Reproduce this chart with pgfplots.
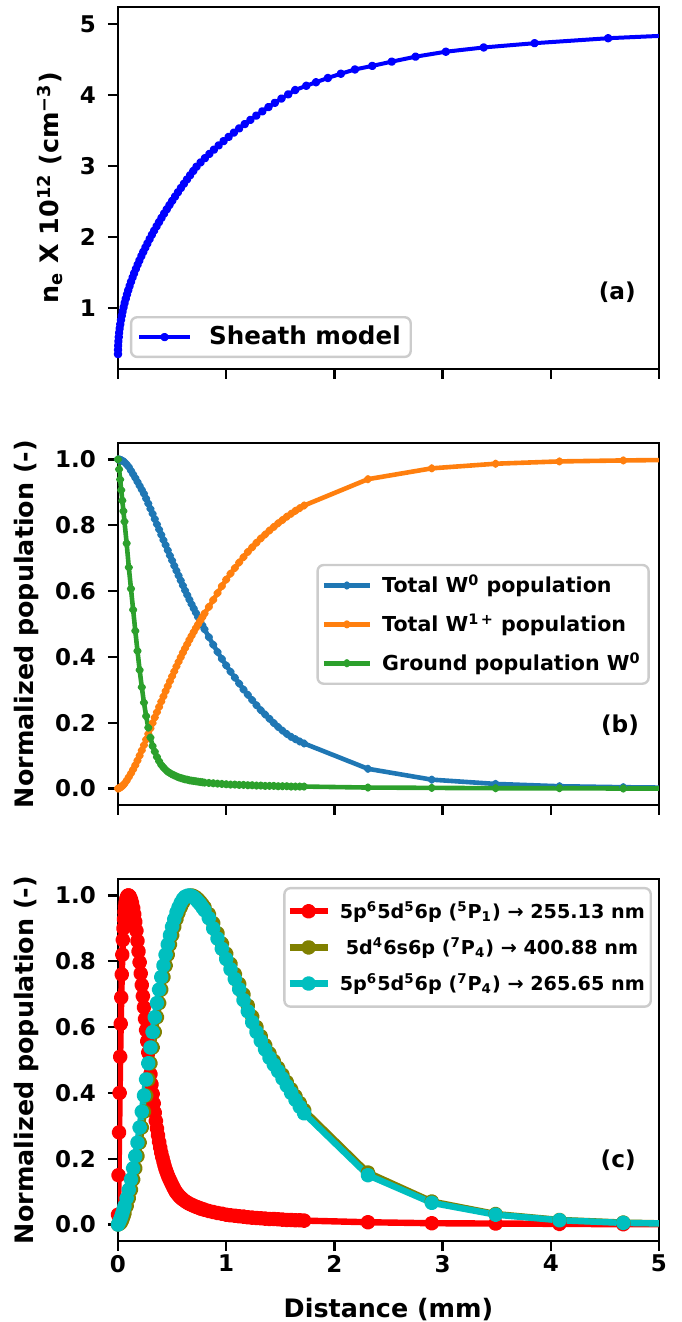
\documentclass[border=0pt]{standalone}
\usepackage{fontspec}
\setmainfont{DejaVu Sans}
\usepackage{pgfplots}
\pgfplotsset{compat=1.18}
\usepackage{pgfplotstable}

\definecolor{tabblue}{HTML}{1F77B4}
\definecolor{taborange}{HTML}{FF7F0E}
\definecolor{tabgreen}{HTML}{2CA02C}
\definecolor{mplolive}{HTML}{808000}
\definecolor{mplcyan}{HTML}{00BFBF}
\definecolor{legframe}{HTML}{CCCCCC}

\pgfplotstableread{
x blue orange green olive cyan
0.00 1.000 0.000 1.000 0.000 0.000
0.01 1.000 0.001 0.970 0.002 0.007
0.02 0.999 0.003 0.939 0.004 0.015
0.03 0.998 0.005 0.907 0.008 0.024
0.04 0.996 0.008 0.875 0.015 0.034
0.05 0.994 0.011 0.843 0.024 0.045
0.06 0.992 0.015 0.811 0.034 0.056
0.08 0.985 0.024 0.745 0.056 0.080
0.10 0.977 0.035 0.672 0.080 0.106
0.12 0.966 0.046 0.607 0.106 0.137
0.14 0.955 0.058 0.543 0.137 0.171
0.16 0.944 0.071 0.479 0.171 0.208
0.18 0.932 0.085 0.418 0.208 0.249
0.20 0.920 0.100 0.360 0.249 0.295
0.22 0.908 0.116 0.308 0.295 0.343
0.24 0.896 0.132 0.261 0.343 0.392
0.26 0.881 0.149 0.220 0.392 0.441
0.28 0.866 0.166 0.185 0.441 0.490
0.30 0.850 0.183 0.155 0.490 0.538
0.32 0.835 0.199 0.129 0.538 0.585
0.34 0.819 0.216 0.112 0.585 0.630
0.36 0.803 0.232 0.096 0.630 0.673
0.38 0.787 0.248 0.083 0.673 0.714
0.40 0.771 0.264 0.072 0.714 0.752
0.42 0.755 0.280 0.064 0.752 0.787
0.44 0.740 0.296 0.057 0.787 0.820
0.46 0.724 0.311 0.051 0.820 0.851
0.48 0.708 0.326 0.047 0.851 0.879
0.50 0.693 0.341 0.043 0.879 0.905
0.52 0.677 0.356 0.040 0.905 0.928
0.54 0.662 0.371 0.037 0.928 0.948
0.56 0.647 0.385 0.034 0.948 0.964
0.58 0.632 0.399 0.032 0.964 0.978
0.60 0.617 0.413 0.030 0.978 0.989
0.62 0.602 0.426 0.028 0.989 0.996
0.64 0.588 0.439 0.027 0.996 0.999
0.66 0.574 0.452 0.025 0.999 1.000
0.68 0.560 0.464 0.024 1.000 0.998
0.70 0.547 0.476 0.023 0.998 0.994
0.72 0.534 0.488 0.022 0.994 0.988
0.74 0.521 0.499 0.021 0.988 0.981
0.76 0.508 0.510 0.020 0.981 0.973
0.78 0.496 0.521 0.019 0.973 0.964
0.80 0.484 0.532 0.018 0.964 0.955
0.84 0.460 0.552 0.017 0.943 0.931
0.88 0.437 0.573 0.016 0.916 0.900
0.92 0.415 0.594 0.015 0.885 0.869
0.96 0.394 0.615 0.014 0.854 0.838
1.00 0.374 0.635 0.013 0.823 0.807
1.04 0.355 0.653 0.012 0.792 0.776
1.08 0.337 0.670 0.012 0.761 0.746
1.12 0.319 0.687 0.011 0.731 0.715
1.16 0.301 0.703 0.011 0.699 0.682
1.20 0.285 0.719 0.010 0.665 0.648
1.24 0.269 0.733 0.010 0.632 0.615
1.28 0.253 0.747 0.009 0.600 0.585
1.32 0.238 0.760 0.009 0.572 0.558
1.36 0.225 0.772 0.008 0.545 0.532
1.40 0.212 0.784 0.008 0.520 0.507
1.44 0.199 0.795 0.008 0.497 0.486
1.48 0.187 0.806 0.007 0.476 0.466
1.52 0.176 0.816 0.007 0.455 0.444
1.56 0.166 0.826 0.007 0.433 0.422
1.60 0.157 0.835 0.006 0.411 0.400
1.64 0.150 0.844 0.006 0.390 0.379
1.68 0.143 0.852 0.006 0.369 0.358
1.72 0.137 0.860 0.006 0.348 0.338
2.31 0.060 0.940 0.003 0.158 0.150
2.90 0.027 0.973 0.002 0.070 0.066
3.49 0.014 0.987 0.001 0.032 0.030
4.08 0.007 0.994 0.001 0.014 0.013
4.67 0.004 0.997 0.000 0.006 0.005
5.26 0.002 0.999 0.000 0.002 0.002
}\popdata

\pgfplotstableread{
x red
0.000 0.030
0.005 0.150
0.010 0.280
0.015 0.400
0.020 0.510
0.025 0.610
0.030 0.690
0.035 0.760
0.040 0.820
0.045 0.865
0.050 0.900
0.055 0.928
0.060 0.950
0.065 0.966
0.070 0.978
0.075 0.987
0.080 0.993
0.085 0.997
0.090 0.999
0.095 1.000
0.100 1.000
0.110 0.996
0.120 0.988
0.130 0.977
0.140 0.962
0.150 0.943
0.160 0.920
0.170 0.893
0.180 0.862
0.190 0.830
0.200 0.797
0.210 0.763
0.220 0.728
0.230 0.694
0.240 0.660
0.250 0.625
0.260 0.591
0.270 0.557
0.280 0.523
0.290 0.490
0.300 0.457
0.310 0.426
0.320 0.397
0.330 0.368
0.340 0.340
0.350 0.315
0.360 0.292
0.370 0.271
0.380 0.251
0.390 0.234
0.400 0.218
0.410 0.204
0.420 0.191
0.430 0.179
0.440 0.168
0.450 0.159
0.460 0.150
0.470 0.142
0.480 0.135
0.490 0.128
0.500 0.121
0.510 0.114
0.520 0.108
0.530 0.102
0.540 0.097
0.550 0.093
0.560 0.089
0.570 0.085
0.580 0.082
0.590 0.079
0.600 0.076
0.620 0.071
0.640 0.067
0.660 0.063
0.680 0.060
0.700 0.057
0.720 0.054
0.740 0.052
0.760 0.049
0.780 0.047
0.800 0.045
0.840 0.041
0.880 0.038
0.920 0.035
0.960 0.033
1.000 0.030
1.040 0.028
1.080 0.027
1.120 0.025
1.160 0.024
1.200 0.022
1.240 0.021
1.280 0.020
1.320 0.019
1.360 0.018
1.400 0.017
1.440 0.017
1.480 0.016
1.520 0.015
1.560 0.014
1.600 0.014
1.640 0.013
1.680 0.013
1.720 0.012
2.310 0.007
2.900 0.004
3.490 0.003
4.080 0.002
4.670 0.001
5.260 0.001
}\reddata

\pgfplotstableread{
x n
0.0000 0.35
0.0004 0.41
0.0017 0.47
0.0039 0.53
0.0069 0.59
0.0107 0.65
0.0154 0.71
0.0210 0.77
0.0274 0.83
0.0347 0.89
0.0428 0.95
0.0518 1.01
0.0613 1.07
0.0717 1.13
0.0828 1.19
0.0947 1.25
0.1073 1.31
0.1206 1.37
0.1347 1.43
0.1494 1.49
0.1649 1.55
0.1811 1.61
0.1979 1.67
0.2155 1.73
0.2337 1.79
0.2525 1.85
0.2721 1.91
0.2922 1.97
0.3130 2.03
0.3344 2.09
0.3564 2.15
0.3791 2.21
0.4023 2.27
0.4262 2.33
0.4506 2.39
0.4756 2.45
0.5012 2.51
0.5274 2.57
0.5541 2.63
0.5814 2.69
0.6092 2.75
0.6375 2.81
0.6664 2.87
0.6958 2.93
0.7257 2.99
0.7630 3.05
0.8030 3.11
0.8443 3.17
0.8864 3.23
0.9304 3.29
0.9758 3.35
1.0226 3.41
1.0709 3.47
1.1198 3.53
1.1711 3.59
1.2239 3.65
1.2782 3.71
1.3341 3.77
1.3907 3.83
1.4498 3.89
1.5107 3.95
1.5733 4.01
1.6376 4.07
1.74 4.13
1.83 4.18
1.94 4.24
2.06 4.30
2.19 4.36
2.35 4.41
2.53 4.47
2.75 4.54
3.03 4.61
3.38 4.67
3.85 4.73
4.53 4.80
5.40 4.86
}\nedata

\newcommand{\tickfont}{\fontsize{11.5pt}{13pt}\selectfont\bfseries}
\newcommand{\labfont}{\fontsize{12.7pt}{14.5pt}\selectfont\bfseries}
\newcommand{\panfont}{\fontsize{11.6pt}{13pt}\selectfont\bfseries}

\pgfplotsset{
  base/.style={
    scale only axis, width=270.5pt, height=181pt,
    anchor=south west,
    xmin=0, xmax=5, xtick={0,1,2,3,4,5},
    xtick pos=bottom, ytick pos=left,
    tick align=outside, major tick length=5pt,
    tick style={black, line width=1.2pt},
    axis line style={line width=1pt, black},
    tick label style={font=\tickfont},
    yticklabel style={xshift=-2.5pt},
    xticklabel style={yshift=1.5pt},
    /pgf/number format/assume math mode=true,
    label style={font=\labfont},
    legend cell align=left,
  },
}

\begin{document}
\begin{tikzpicture}
\useasboundingbox (0,0) rectangle (340.5pt,661pt);

% (a)
\begin{axis}[base, at={(59pt,476.5pt)},
  ymin=0.14, ymax=5.24, ytick={1,2,3,4,5},
  xticklabels={},
  ylabel={n\textsubscript{e} X 10\textsuperscript{12} (cm\textsuperscript{−3})},
  ylabel style={at={(axis description cs:-0.126,0.5)}, anchor=center},
  legend style={at={(0.022,0.030)}, anchor=south west, draw=legframe,
    line width=1.2pt, rounded corners=3pt, fill=white,
    font=\fontsize{12.3pt}{14pt}\selectfont\bfseries,
    inner xsep=3pt, inner ysep=2.5pt},
  legend image code/.code={\draw[mark repeat=2,mark phase=2] plot coordinates {(0pt,0pt) (12.75pt,0pt) (25.5pt,0pt)};},
]
\addplot[color=blue, line width=2pt, line join=round, mark=*, mark size=1.1pt, mark options={solid, fill=blue, draw=blue}] table[x=x, y=n] {\nedata};
\addlegendentry{\hspace{6.5pt}Sheath model}
\node[anchor=east, font=\panfont] at (rel axis cs:0.970,0.213) {(a)};
\end{axis}

% (b)
\begin{axis}[base, at={(59pt,258.5pt)},
  ymin=-0.05, ymax=1.05, ytick={0,0.2,0.4,0.6,0.8,1.0},
  yticklabel style={/pgf/number format/.cd, fixed, fixed zerofill, precision=1},
  xticklabels={},
  ylabel={Normalized population (-)},
  ylabel style={at={(axis description cs:-0.170,0.5)}, anchor=center},
  legend style={at={(0.983,0.499)}, anchor=east, draw=legframe,
    line width=1.2pt, rounded corners=3pt, fill=white,
    font=\fontsize{10.3pt}{12pt}\selectfont\bfseries,
    inner xsep=2pt, inner ysep=3pt, row sep=5pt},
  legend image code/.code={\draw[mark repeat=2,mark phase=2] plot coordinates {(0pt,0pt) (11.5pt,0pt) (23pt,0pt)};},
]
\addplot[color=tabblue, line width=2.3pt, line join=round, mark=*, mark size=0.9pt, mark options={solid, fill=tabblue, draw=tabblue}] table[x=x, y=blue] {\popdata};
\addlegendentry{\hspace{3pt}Total W\textsuperscript{0} population}
\addplot[color=taborange, line width=2.3pt, line join=round, mark=*, mark size=0.9pt, mark options={solid, fill=taborange, draw=taborange}] table[x=x, y=orange] {\popdata};
\addlegendentry{\hspace{3pt}Total W\textsuperscript{1\,+} population}
\addplot[color=tabgreen, line width=2.3pt, line join=round, mark=*, mark size=0.9pt, mark options={solid, fill=tabgreen, draw=tabgreen}] table[x=x, y=green] {\popdata};
\addlegendentry{\hspace{3pt}Ground population W\textsuperscript{0}}
\node[anchor=east, font=\panfont] at (rel axis cs:0.976,0.221) {(b)};
\end{axis}

% (c)
\begin{axis}[base, at={(59pt,40.5pt)},
  ymin=-0.05, ymax=1.05, ytick={0,0.2,0.4,0.6,0.8,1.0},
  yticklabel style={/pgf/number format/.cd, fixed, fixed zerofill, precision=1},
  xlabel={Distance (mm)},
  xlabel style={at={(axis description cs:0.5,-0.188)}, anchor=center},
  ylabel={Normalized population (-)},
  ylabel style={at={(axis description cs:-0.170,0.5)}, anchor=center},
  legend style={at={(0.987,0.978)}, anchor=north east, draw=legframe,
    line width=1.2pt, rounded corners=3pt, fill=white,
    font=\fontsize{9.6pt}{11pt}\selectfont\bfseries,
    inner xsep=1pt, inner ysep=4.5pt, row sep=4pt},
  legend image code/.code={\draw[mark repeat=2,mark phase=2] plot coordinates {(0pt,0pt) (9.5pt,0pt) (19pt,0pt)};},
]
\addplot[color=red, line width=3.2pt, line join=round, mark=*, mark size=2.1pt, mark options={solid, fill=red, draw=red}] table[x=x, y=red] {\reddata};
\addlegendentry{\hspace{2.5pt}5p\textsuperscript{6}5d\textsuperscript{5}6p (\textsuperscript{5}P\textsubscript{1}) → 255.13 nm}
\addplot[color=mplolive, line width=3.2pt, line join=round, mark=*, mark size=2.1pt, mark options={solid, fill=mplolive, draw=mplolive}] table[x=x, y=olive] {\popdata};
\addlegendentry{\hspace{5.5pt}5d\textsuperscript{4}6s6p (\textsuperscript{7}P\textsubscript{4}) → 400.88 nm}
\addplot[color=mplcyan, line width=3.2pt, line join=round, mark=*, mark size=2.1pt, mark options={solid, fill=mplcyan, draw=mplcyan}] table[x=x, y=cyan] {\popdata};
\addlegendentry{\hspace{2.5pt}5p\textsuperscript{6}5d\textsuperscript{5}6p (\textsuperscript{7}P\textsubscript{4}) → 265.65 nm}
\node[anchor=east, font=\panfont] at (rel axis cs:0.970,0.222) {(c)};
\end{axis}
\end{tikzpicture}
\end{document}
